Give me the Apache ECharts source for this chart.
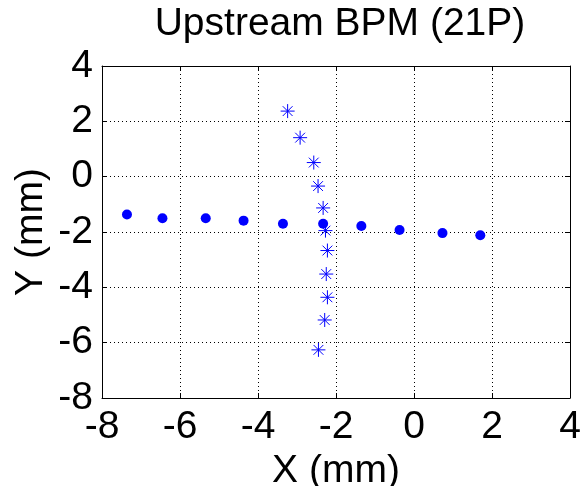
<!DOCTYPE html>
<html>
<head>
<meta charset="utf-8">
<script src="https://cdn.jsdelivr.net/npm/echarts@6/dist/echarts.min.js"></script>
<style>
  html, body { margin: 0; padding: 0; background: #fff; }
  #main { width: 582px; height: 486px; }
</style>
</head>
<body>
<div id="main"></div>
<script>
// 水平扫描（圆点）
var dotX = [-7.36, -6.45, -5.34, -4.37, -3.36, -2.33, -1.35, -0.37, 0.73, 1.70];
var dotY = [-1.37, -1.50, -1.50, -1.59, -1.70, -1.70, -1.78, -1.93, -2.04, -2.12];
// 垂直扫描（星号）
var starX = [-3.24, -2.92, -2.57, -2.46, -2.33, -2.27, -2.22, -2.25, -2.22, -2.29, -2.45];
var starY = [2.37, 1.41, 0.51, -0.34, -1.13, -1.95, -2.67, -3.52, -4.36, -5.18, -6.26];
var xTicks = [-8, -6, -4, -2, 0, 2, 4];
var yTicks = [-8, -6, -4, -2, 0, 2, 4];

function pairs(xs, ys) {
  return xs.map(function (x, i) { return [x, ys[i]]; });
}

var font = 'Liberation Sans, Arial, sans-serif';
var fs = 39;

function axisBase(type, pos, ticks, showLabel) {
  return {
    type: 'value',
    position: pos,
    min: ticks[0],
    max: ticks[ticks.length - 1],
    interval: 2,
    axisLine: { show: true, onZero: false, lineStyle: { color: '#000', width: 1 } },
    axisTick: { show: true, inside: true, length: 5, lineStyle: { color: '#000' } },
    axisLabel: { show: showLabel, color: '#000', fontSize: fs, fontFamily: font, margin: type === 'x' ? 10 : 9 },
    splitLine: { show: showLabel, lineStyle: { color: '#000', type: [1, 3], width: 1 } }
  };
}

var myChart = echarts.init(document.getElementById('main'));
var xMain = axisBase('x', 'bottom', xTicks, true);
xMain.name = 'X (mm)';
xMain.nameLocation = 'middle';
xMain.nameGap = 54;
xMain.nameMoveOverlap = false;
xMain.nameTextStyle = { color: '#000', fontSize: fs, fontFamily: font };
var yMain = axisBase('y', 'left', yTicks, true);
yMain.name = 'Y (mm)';
yMain.nameLocation = 'middle';
yMain.nameGap = 51;
yMain.nameMoveOverlap = false;
yMain.nameTextStyle = { color: '#000', fontSize: fs, fontFamily: font };

myChart.setOption({
  animation: false,
  title: {
    text: 'Upstream BPM (21P)',
    left: 335,
    top: 0,
    textAlign: 'center',
    textStyle: { color: '#000', fontSize: fs, fontWeight: 'normal', fontFamily: font }
  },
  grid: { left: 102, right: 12, top: 66, bottom: 88, outerBoundsMode: 'none', containLabel: false },
  xAxis: [xMain, axisBase('x', 'top', xTicks, false)],
  yAxis: [yMain, axisBase('y', 'right', yTicks, false)],
  series: [{
    name: 'dots',
    type: 'scatter',
    symbol: 'circle',
    symbolSize: 10,
    itemStyle: { color: '#0000ff', opacity: 1 },
    data: pairs(dotX, dotY)
  }, {
    name: 'stars',
    type: 'scatter',
    symbol: 'path://M0,-10L0,10M-10,0L10,0M-7,-7L7,7M-7,7L7,-7',
    symbolSize: 14,
    itemStyle: { color: 'transparent', borderColor: '#0000ff', borderWidth: 1, opacity: 1 },
    data: pairs(starX, starY)
  }]
});
</script>
</body>
</html>
